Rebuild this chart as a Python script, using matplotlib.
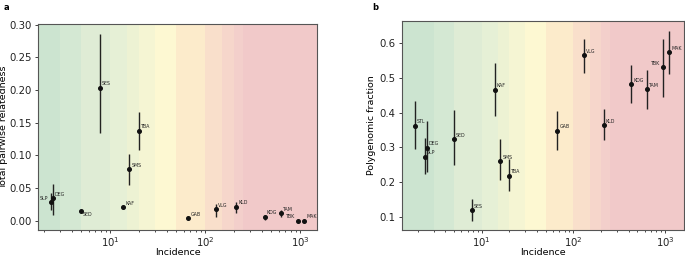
import numpy as np
import matplotlib
matplotlib.use("Agg")
import matplotlib.pyplot as plt

# populations and incidence (shared by both panels)
sites = ["STL", "SLP", "DEG", "SED", "SES", "KAF", "SMS", "TBA",
         "GAB", "VLG", "KLD", "KDG", "TAM", "TBK", "MAK"]
incidence = [1.87, 2.4, 2.5, 4.95, 7.85, 13.8, 16.0, 20.0,
             67.0, 131.0, 214.0, 425.0, 628.0, 960.0, 1110.0]

# panel a: total pairwise relatedness (STL missing)
relat = [np.nan, 0.0285, 0.0345, 0.0157, 0.2037, 0.0208, 0.079, 0.1377,
         0.0036, 0.0178, 0.0218, 0.0061, 0.0117, 0.0, 0.0]
relat_lo = [np.nan, 0.016, 0.009, 0.0145, 0.135, 0.019, 0.055, 0.108,
            0.0025, 0.0066, 0.0127, 0.0015, 0.006, 0.0, 0.0]
relat_hi = [np.nan, 0.042, 0.056, 0.017, 0.286, 0.0225, 0.102, 0.166,
            0.005, 0.026, 0.0295, 0.009, 0.016, 0.0, 0.0]

# panel b: polygenomic fraction
poly = [0.362, 0.273, 0.299, 0.324, 0.119, 0.466, 0.260, 0.219,
        0.348, 0.565, 0.364, 0.482, 0.468, 0.530, 0.574]
poly_lo = [0.296, 0.224, 0.229, 0.250, 0.090, 0.391, 0.206, 0.176,
           0.294, 0.514, 0.320, 0.428, 0.410, 0.445, 0.510]
poly_hi = [0.433, 0.326, 0.376, 0.407, 0.152, 0.541, 0.323, 0.268,
           0.405, 0.612, 0.410, 0.536, 0.523, 0.611, 0.634]

# transmission intensity background bands
band_edges = [0.1, 3, 5, 10, 15, 20, 30, 50, 100, 150, 200, 250, 1e5]
band_colors = ["#cce4d0", "#d4e8d3", "#dfecd5", "#e6f0d6", "#edf2d3", "#f5f5d3",
               "#fdf8d2", "#fcebcb", "#f9dfcb", "#f6d6cb", "#f3cfcb", "#f1c9c9"]


def draw_bands(ax):
    for k in range(len(band_colors)):
        ax.axvspan(band_edges[k], band_edges[k + 1], color=band_colors[k],
                   lw=0, zorder=0)


def draw_points(ax, y, lo, hi, left_labels, below_labels):
    x = np.array(incidence)
    y = np.array(y)
    err = np.array([y - np.array(lo), np.array(hi) - y])
    ax.errorbar(x, y, yerr=err, fmt="o", color="#111111", ecolor="#222222",
                ms=2.6, elinewidth=1.0, capsize=0, zorder=3)
    for s, xi, yi in zip(sites, x, y):
        if np.isnan(yi):
            continue
        if s in left_labels:
            ax.annotate(s, (xi, yi), xytext=(-2, 1), textcoords="offset points",
                        fontsize=3.4, ha="right", va="bottom", color="#222222")
        elif s in below_labels:
            ax.annotate(s, (xi, yi), xytext=(1.5, -1), textcoords="offset points",
                        fontsize=3.4, ha="left", va="top", color="#222222")
        else:
            ax.annotate(s, (xi, yi), xytext=(1.5, 1), textcoords="offset points",
                        fontsize=3.4, ha="left", va="bottom", color="#222222")


fig = plt.figure(figsize=(6.85, 2.56), dpi=100)
ax1 = fig.add_axes([0.0555, 0.1016, 0.4073, 0.8046])
ax2 = fig.add_axes([0.587, 0.1016, 0.4115, 0.8164])

for ax in (ax1, ax2):
    ax.set_xscale("log")
    draw_bands(ax)
    for sp in ax.spines.values():
        sp.set_color("#555555")
        sp.set_linewidth(0.8)
    ax.tick_params(labelsize=7.3, width=0.6, length=2.5, pad=2, colors="#222222")
    ax.tick_params(axis="x", pad=1)
    ax.tick_params(which="minor", width=0.5, length=1.5)
    ax.set_xlabel("Incidence", fontsize=6.8, labelpad=-0.5)

draw_points(ax1, relat, relat_lo, relat_hi, ["SLP", "TBK"], ["SED"])
ax1.set_xlim(1.75, 1510)
ax1.set_ylim(-0.014, 0.301)
ax1.set_yticks([0, 0.05, 0.10, 0.15, 0.20, 0.25, 0.30])
ax1.set_yticklabels(["0.00", "0.05", "0.10", "0.15", "0.20", "0.25", "0.30"])
ax1.set_ylabel("Total pairwise relatedness", fontsize=6.8, labelpad=1)

draw_points(ax2, poly, poly_lo, poly_hi, ["TBK"], [])
ax2.set_xlim(1.35, 1610)
ax2.set_ylim(0.063, 0.663)
ax2.set_yticks([0.1, 0.2, 0.3, 0.4, 0.5, 0.6])
ax2.set_ylabel("Polygenomic fraction", fontsize=6.8, labelpad=3)

fig.text(0.005, 0.972, "a", fontsize=6, fontweight="bold", va="center")
fig.text(0.543, 0.972, "b", fontsize=6, fontweight="bold", va="center")

fig.savefig("out.png", dpi=100)
